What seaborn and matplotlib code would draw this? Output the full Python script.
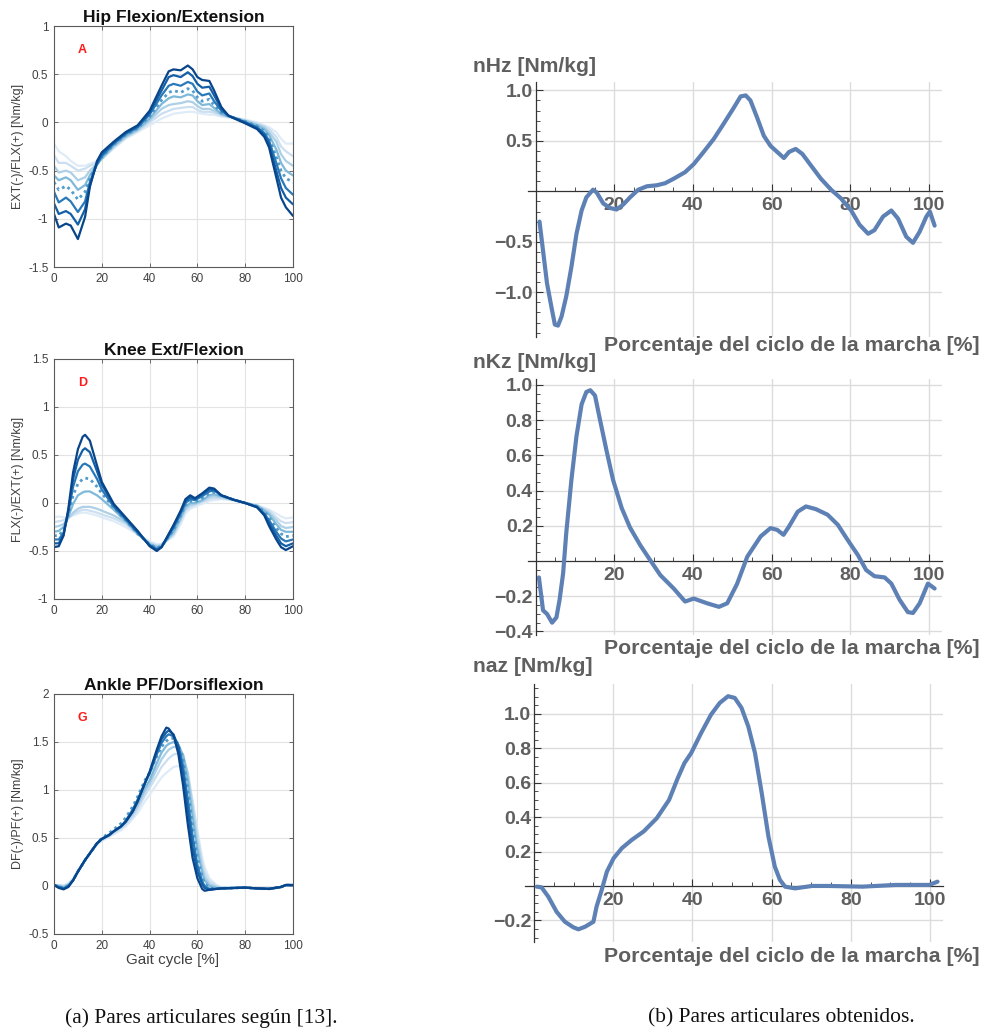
import numpy as np
import matplotlib
matplotlib.use("Agg")
import matplotlib.pyplot as plt
import seaborn as sns
from matplotlib.ticker import MultipleLocator

# ---------------- left column: reference moments, darkest (fastest) curve first ----------------
hip_x = [0, 2, 5, 7, 10, 13, 15, 18, 20, 25, 30, 35, 40, 45, 48, 50, 53, 56, 58, 60,
         62, 65, 67, 70, 73, 75, 80, 85, 88, 90, 93, 95, 97, 100]
hip_y = [
    [-0.95, -1.09, -1.05, -1.07, -1.21, -0.98, -0.67, -0.40, -0.31, -0.20, -0.10, -0.03, 0.12, 0.38, 0.53, 0.55, 0.54, 0.59, 0.55, 0.47,
     0.44, 0.43, 0.33, 0.16, 0.07, 0.045, -0.01, -0.07, -0.15, -0.26, -0.57, -0.78, -0.88, -0.97],
    [-0.84, -0.95, -0.92, -0.95, -1.06, -0.90, -0.65, -0.42, -0.33, -0.21, -0.11, -0.04, 0.10, 0.33, 0.47, 0.49, 0.47, 0.52, 0.48, 0.40,
     0.36, 0.37, 0.28, 0.14, 0.07, 0.05, 0.0, -0.06, -0.13, -0.22, -0.50, -0.68, -0.78, -0.85],
    [-0.72, -0.83, -0.78, -0.82, -0.93, -0.82, -0.62, -0.43, -0.35, -0.22, -0.12, -0.05, 0.08, 0.28, 0.38, 0.40, 0.38, 0.42, 0.40, 0.32,
     0.28, 0.30, 0.22, 0.12, 0.07, 0.05, 0.0, -0.05, -0.11, -0.19, -0.42, -0.58, -0.68, -0.75],
    [-0.62, -0.70, -0.66, -0.70, -0.80, -0.72, -0.58, -0.43, -0.36, -0.23, -0.13, -0.06, 0.06, 0.23, 0.31, 0.33, 0.31, 0.35, 0.33, 0.26,
     0.22, 0.24, 0.18, 0.10, 0.07, 0.05, 0.01, -0.04, -0.09, -0.16, -0.36, -0.50, -0.58, -0.62],
    [-0.55, -0.60, -0.57, -0.60, -0.70, -0.65, -0.55, -0.44, -0.37, -0.24, -0.14, -0.07, 0.04, 0.19, 0.25, 0.27, 0.26, 0.29, 0.28, 0.22,
     0.18, 0.19, 0.15, 0.09, 0.06, 0.05, 0.01, -0.03, -0.07, -0.13, -0.28, -0.42, -0.50, -0.55],
    [-0.45, -0.52, -0.50, -0.52, -0.60, -0.57, -0.50, -0.43, -0.38, -0.25, -0.15, -0.08, 0.02, 0.14, 0.18, 0.19, 0.20, 0.22, 0.21, 0.17,
     0.14, 0.14, 0.12, 0.08, 0.06, 0.05, 0.02, -0.02, -0.05, -0.10, -0.20, -0.33, -0.40, -0.45],
    [-0.34, -0.42, -0.42, -0.45, -0.50, -0.48, -0.45, -0.42, -0.38, -0.26, -0.16, -0.09, 0.0, 0.09, 0.12, 0.14, 0.15, 0.16, 0.16, 0.13,
     0.11, 0.11, 0.10, 0.07, 0.06, 0.05, 0.02, -0.01, -0.04, -0.07, -0.15, -0.25, -0.30, -0.35],
    [-0.22, -0.30, -0.35, -0.40, -0.45, -0.45, -0.43, -0.40, -0.38, -0.27, -0.17, -0.10, -0.03, 0.04, 0.07, 0.09, 0.10, 0.11, 0.11, 0.10,
     0.09, 0.08, 0.08, 0.06, 0.05, 0.05, 0.03, 0.0, -0.03, -0.05, -0.10, -0.17, -0.22, -0.22],
]

knee_x = [0, 2, 4, 6, 8, 10, 12, 13, 15, 18, 20, 25, 30, 35, 40, 43, 45, 50, 53, 55,
          57, 59, 62, 65, 67, 70, 75, 80, 85, 88, 90, 93, 95, 97, 100]
knee_y = [
    [-0.46, -0.45, -0.34, -0.06, 0.32, 0.56, 0.69, 0.71, 0.65, 0.39, 0.22, -0.01, -0.15, -0.29, -0.45, -0.50, -0.46, -0.23, -0.08, 0.04,
     0.08, 0.05, 0.10, 0.16, 0.15, 0.08, 0.035, 0.0, -0.045, -0.13, -0.24, -0.38, -0.46, -0.49, -0.45],
    [-0.42, -0.42, -0.33, -0.08, 0.25, 0.45, 0.55, 0.57, 0.53, 0.33, 0.19, -0.02, -0.16, -0.30, -0.44, -0.49, -0.46, -0.24, -0.09, 0.02,
     0.06, 0.04, 0.09, 0.14, 0.14, 0.08, 0.035, 0.0, -0.045, -0.12, -0.21, -0.34, -0.42, -0.45, -0.42],
    [-0.38, -0.38, -0.31, -0.10, 0.17, 0.33, 0.40, 0.41, 0.38, 0.25, 0.14, -0.04, -0.17, -0.31, -0.44, -0.48, -0.46, -0.26, -0.11, 0.0,
     0.04, 0.03, 0.07, 0.12, 0.13, 0.08, 0.035, 0.0, -0.04, -0.11, -0.18, -0.30, -0.37, -0.40, -0.38],
    [-0.34, -0.34, -0.28, -0.12, 0.08, 0.20, 0.25, 0.26, 0.25, 0.17, 0.10, -0.05, -0.18, -0.32, -0.43, -0.47, -0.45, -0.28, -0.13, -0.02,
     0.02, 0.01, 0.05, 0.10, 0.11, 0.08, 0.035, 0.0, -0.035, -0.09, -0.15, -0.26, -0.32, -0.35, -0.34],
    [-0.30, -0.29, -0.25, -0.14, -0.01, 0.08, 0.11, 0.12, 0.12, 0.08, 0.04, -0.07, -0.19, -0.32, -0.43, -0.46, -0.45, -0.30, -0.15, -0.04,
     0.0, 0.0, 0.03, 0.08, 0.09, 0.07, 0.035, 0.0, -0.03, -0.08, -0.12, -0.22, -0.28, -0.30, -0.30],
    [-0.25, -0.24, -0.22, -0.16, -0.10, -0.06, -0.04, -0.04, -0.04, -0.06, -0.08, -0.13, -0.20, -0.32, -0.42, -0.45, -0.44, -0.32, -0.17, -0.06,
     -0.02, -0.01, 0.02, 0.06, 0.07, 0.06, 0.03, 0.0, -0.03, -0.07, -0.10, -0.18, -0.24, -0.26, -0.25],
    [-0.20, -0.19, -0.18, -0.15, -0.12, -0.09, -0.07, -0.07, -0.08, -0.10, -0.12, -0.16, -0.22, -0.32, -0.41, -0.44, -0.43, -0.33, -0.19, -0.08,
     -0.04, -0.02, 0.01, 0.04, 0.05, 0.05, 0.03, 0.0, -0.025, -0.06, -0.08, -0.15, -0.19, -0.21, -0.20],
    [-0.15, -0.14, -0.15, -0.15, -0.13, -0.11, -0.10, -0.10, -0.11, -0.13, -0.15, -0.19, -0.25, -0.33, -0.40, -0.43, -0.43, -0.35, -0.22, -0.11,
     -0.06, -0.04, -0.01, 0.02, 0.03, 0.04, 0.03, 0.0, -0.02, -0.05, -0.07, -0.11, -0.14, -0.16, -0.15],
]

ankle_x = [0, 2, 4, 6, 8, 10, 13, 15, 18, 20, 23, 25, 28, 30, 33, 35, 38, 40, 43, 45,
           47, 48, 50, 52, 54, 56, 58, 60, 62, 63, 65, 68, 70, 80, 85, 90, 95, 97, 100]
ankle_y = [
    [0.01, -0.02, -0.035, -0.01, 0.06, 0.15, 0.27, 0.34, 0.445, 0.49, 0.53, 0.57, 0.62, 0.67, 0.78, 0.88, 1.07, 1.19, 1.42, 1.56,
     1.65, 1.64, 1.57, 1.38, 1.05, 0.64, 0.29, 0.08, -0.03, -0.05, -0.04, -0.03, -0.025, -0.017, -0.025, -0.03, -0.01, 0.01, 0.01],
    [0.01, -0.015, -0.03, -0.005, 0.06, 0.15, 0.27, 0.34, 0.445, 0.49, 0.53, 0.57, 0.62, 0.67, 0.78, 0.89, 1.07, 1.18, 1.40, 1.53,
     1.60, 1.62, 1.58, 1.45, 1.17, 0.78, 0.40, 0.15, 0.02, -0.02, -0.04, -0.03, -0.025, -0.017, -0.025, -0.03, -0.01, 0.01, 0.01],
    [0.01, -0.01, -0.025, 0.0, 0.06, 0.15, 0.27, 0.34, 0.445, 0.49, 0.53, 0.57, 0.62, 0.68, 0.80, 0.90, 1.07, 1.17, 1.37, 1.49,
     1.56, 1.58, 1.56, 1.47, 1.25, 0.90, 0.52, 0.22, 0.05, 0.0, -0.03, -0.03, -0.025, -0.017, -0.025, -0.03, -0.01, 0.01, 0.01],
    [0.01, -0.005, -0.02, 0.005, 0.06, 0.15, 0.27, 0.34, 0.445, 0.50, 0.55, 0.59, 0.65, 0.71, 0.83, 0.93, 1.10, 1.18, 1.35, 1.45,
     1.51, 1.53, 1.54, 1.48, 1.32, 1.00, 0.62, 0.30, 0.09, 0.03, -0.02, -0.03, -0.025, -0.017, -0.025, -0.03, -0.01, 0.01, 0.01],
    [0.01, 0.0, -0.015, 0.01, 0.06, 0.15, 0.27, 0.34, 0.44, 0.49, 0.53, 0.57, 0.62, 0.67, 0.77, 0.86, 1.02, 1.10, 1.28, 1.39,
     1.46, 1.48, 1.50, 1.47, 1.36, 1.10, 0.72, 0.38, 0.14, 0.06, 0.0, -0.02, -0.025, -0.017, -0.025, -0.03, -0.01, 0.01, 0.01],
    [0.01, 0.005, -0.01, 0.015, 0.06, 0.15, 0.27, 0.34, 0.44, 0.48, 0.52, 0.56, 0.61, 0.66, 0.75, 0.83, 0.98, 1.06, 1.22, 1.32,
     1.39, 1.42, 1.45, 1.44, 1.37, 1.17, 0.82, 0.46, 0.19, 0.10, 0.02, -0.01, -0.02, -0.017, -0.025, -0.03, -0.01, 0.01, 0.01],
    [0.01, 0.01, 0.0, 0.02, 0.07, 0.15, 0.27, 0.34, 0.44, 0.48, 0.52, 0.55, 0.60, 0.64, 0.72, 0.80, 0.94, 1.02, 1.15, 1.24,
     1.30, 1.33, 1.37, 1.38, 1.33, 1.18, 0.88, 0.54, 0.25, 0.15, 0.05, 0.0, -0.015, -0.017, -0.025, -0.03, -0.01, 0.01, 0.01],
    [0.01, 0.01, 0.01, 0.03, 0.08, 0.16, 0.27, 0.34, 0.43, 0.47, 0.51, 0.54, 0.58, 0.62, 0.70, 0.76, 0.88, 0.95, 1.06, 1.13,
     1.18, 1.20, 1.24, 1.25, 1.22, 1.10, 0.88, 0.58, 0.30, 0.20, 0.08, 0.01, -0.01, -0.017, -0.025, -0.03, -0.01, 0.01, 0.01],
]

hip_yticks = [-1.5, -1, -0.5, 0, 0.5, 1]
knee_yticks = [-1, -0.5, 0, 0.5, 1, 1.5]
ankle_yticks = [-0.5, 0, 0.5, 1, 1.5, 2]
gait_xticks = [0, 20, 40, 60, 80, 100]

# ---------------- right column: computed moments ----------------
nhz_x = [1, 2.9, 4, 4.9, 5.7, 6.6, 7.8, 9.1, 10.4, 11.7, 12.9, 14.6, 15.5, 17.2, 18.9, 20.6, 22.3, 24, 26.1, 28.3,
         30.8, 32.9, 35.1, 38, 40.2, 42.7, 45.3, 47.8, 50.4, 52.1, 53.4, 54.6, 56.3, 58, 59.7, 61.4, 63.1, 64.4, 66.1, 67.8,
         69.9, 72.5, 75.1, 77.6, 80.2, 82.3, 84.5, 86.1, 88.3, 90.4, 92.1, 94.2, 95.9, 97.6, 99.3, 100.2, 101.4]
nhz_y = [-0.30, -0.91, -1.14, -1.32, -1.33, -1.24, -1.04, -0.75, -0.42, -0.19, -0.06, 0.016, -0.01, -0.12, -0.165, -0.18, -0.13, -0.06, 0.016, 0.05,
         0.06, 0.08, 0.125, 0.19, 0.27, 0.39, 0.52, 0.67, 0.83, 0.94, 0.95, 0.90, 0.73, 0.55, 0.45, 0.39, 0.33, 0.39, 0.42, 0.37,
         0.26, 0.125, 0.016, -0.07, -0.19, -0.33, -0.42, -0.385, -0.25, -0.19, -0.27, -0.45, -0.51, -0.40, -0.25, -0.20, -0.34]

nkz_x = [0.85, 1.9, 2.9, 4.2, 5.3, 6.1, 7, 7.8, 9.1, 10.4, 11.7, 12.9, 13.9, 15.1, 16.3, 18, 19.7, 21.9, 24, 26.6,
         29.1, 31.7, 35.1, 38, 40.2, 43.6, 46.6, 48.7, 51.2, 53.8, 57.2, 59.7, 61.4, 63, 64.4, 66.6, 68.7, 71.2, 74.2, 76.8,
         79.3, 81.9, 84, 86.1, 88.7, 90.4, 92.5, 94.6, 95.9, 97.6, 99.7, 101.4]
nkz_y = [-0.093, -0.28, -0.30, -0.35, -0.32, -0.22, -0.07, 0.16, 0.46, 0.71, 0.89, 0.96, 0.97, 0.94, 0.81, 0.63, 0.46, 0.30, 0.19, 0.09,
         0.006, -0.08, -0.156, -0.23, -0.213, -0.24, -0.26, -0.24, -0.13, 0.025, 0.14, 0.187, 0.177, 0.149, 0.196, 0.28, 0.31, 0.295, 0.263, 0.206,
         0.12, 0.034, -0.051, -0.086, -0.093, -0.128, -0.22, -0.29, -0.295, -0.24, -0.128, -0.156]

naz_x = [0.7, 1.9, 3.6, 5.7, 7.8, 9.9, 11.2, 12.9, 15, 15.8, 17.1, 18.4, 20.1, 22.2, 24.7, 27.7, 31, 34.1, 36.3, 38,
         39.7, 42.2, 44.7, 46.9, 49, 50.7, 52.4, 54.1, 55.8, 57.5, 59.2, 60.8, 62.1, 63.4, 65.9, 70.2, 74.4, 82.9, 91.4, 99.8, 101.9]
naz_y = [-0.004, -0.008, -0.062, -0.15, -0.208, -0.24, -0.252, -0.237, -0.208, -0.12, -0.023, 0.083, 0.161, 0.22, 0.268, 0.317, 0.394, 0.5, 0.627, 0.715,
         0.773, 0.889, 0.996, 1.064, 1.103, 1.093, 1.035, 0.928, 0.773, 0.54, 0.287, 0.113, 0.035, -0.004, -0.014, 0.0, 0.0, -0.004, 0.006, 0.006, 0.025]

nhz_yticks = [-1.0, -0.5, 0.5, 1.0]
nkz_yticks = [-0.4, -0.2, 0.2, 0.4, 0.6, 0.8, 1.0]
naz_yticks = [-0.2, 0.2, 0.4, 0.6, 0.8, 1.0]
pct_xticks = [20, 40, 60, 80, 100]

# ---------------- figure ----------------
W, H = 985, 1031
sns.set_theme(style="white")
plt.rcParams["font.family"] = ["Liberation Sans", "DejaVu Sans"]

fig = plt.figure(figsize=(W / 100, H / 100), dpi=100)


def add_ax(x0, y0, x1, y1):
    # pixel box (top-left origin) -> figure fraction
    return fig.add_axes([x0 / W, 1 - y1 / H, (x1 - x0) / W, (y1 - y0) / H])


def ftext(x, y, s, **kw):
    fig.text(x / W, 1 - y / H, s, **kw)


blues = sns.color_palette("Blues", as_cmap=True)
levels = [0.92, 0.82, 0.72, 0.58, 0.45, 0.33, 0.22, 0.12]


def left_panel(box, x, curves, yticks, title, letter, ylabel):
    ax = add_ax(*box)
    for k in range(len(curves) - 1, -1, -1):
        dotted = k == 3
        sns.lineplot(x=x, y=curves[k], ax=ax, color=blues(levels[k]),
                     linewidth=2.0 if dotted else 1.6,
                     linestyle=(0, (1, 1.3)) if dotted else "-")
    ax.set_xlim(0, 100)
    ax.set_ylim(yticks[0], yticks[-1])
    ax.set_xticks(gait_xticks)
    ax.set_xticklabels([str(t) for t in gait_xticks])
    ax.set_yticks(yticks)
    ax.set_yticklabels([f"{t:g}" for t in yticks])
    ax.tick_params(direction="in", length=3, width=0.6, color="#555555",
                   labelsize=8.5, labelcolor="#404040", pad=4,
                   bottom=True, left=True, top=True, right=True)
    ax.grid(True, color="#e3e3e3", linewidth=0.8)
    for s in ax.spines.values():
        s.set_color("#5a5a5a")
        s.set_linewidth(0.8)
    ax.set_title(title, fontsize=12.5, fontweight="bold", color="#111111", pad=3)
    ax.text(0.12, 0.9, letter, transform=ax.transAxes, color="#ff1a1a",
            fontsize=9, fontweight="bold", ha="center", va="center")
    ftext(18, (box[1] + box[3]) / 2, ylabel, rotation=90, fontsize=9,
          color="#404040", ha="center", va="center")
    return ax


left_panel((54, 26, 293, 267), hip_x, hip_y, hip_yticks,
           "Hip Flexion/Extension", "A", "EXT(-)/FLX(+) [Nm/kg]")
left_panel((54, 359, 293, 599), knee_x, knee_y, knee_yticks,
           "Knee Ext/Flexion", "D", "FLX(-)/EXT(+) [Nm/kg]")
left_panel((54, 694, 293, 934), ankle_x, ankle_y, ankle_yticks,
           "Ankle PF/Dorsiflexion", "G", "DF(-)/PF(+) [Nm/kg]")
ftext(173, 960, "Gait cycle [%]", fontsize=11, color="#404040", ha="center", va="center")

grey = "#5f5f5f"


def right_panel(box, x, y, xlim, ylim, yticks, yminor, name, name_y, xlabel_y):
    ax = add_ax(*box)
    sns.lineplot(x=x, y=y, ax=ax, color="#5e81b5", linewidth=3.0, zorder=3)
    ax.set_xlim(*xlim)
    ax.set_ylim(*ylim)
    for s in ["top", "right"]:
        ax.spines[s].set_visible(False)
    for s in ["left", "bottom"]:
        ax.spines[s].set_position(("data", 0))
        ax.spines[s].set_color("#333333")
        ax.spines[s].set_linewidth(0.9)
    ax.set_xticks(pct_xticks)
    ax.set_xticklabels([str(t) for t in pct_xticks])
    ax.xaxis.set_minor_locator(MultipleLocator(5))
    ax.set_yticks(yticks)
    ax.set_yticklabels([f"{t:.1f}".replace("-", "\u2212") for t in yticks])
    ax.yaxis.set_minor_locator(MultipleLocator(yminor))
    ax.tick_params(which="both", direction="in", color="#333333",
                   labelcolor=grey, labelsize=14, bottom=True, left=True)
    ax.tick_params(which="major", length=5, width=0.8)
    ax.tick_params(which="minor", length=3, width=0.6)
    ax.tick_params(axis="x", pad=4)
    ax.tick_params(axis="y", pad=2)
    for lab in ax.get_xticklabels() + ax.get_yticklabels():
        lab.set_fontweight("bold")
    ax.grid(True, which="major", color="#dcdcdc", linewidth=1)
    ftext(473, name_y, name, fontsize=15.2, fontweight="bold", color=grey,
          ha="left", va="center")
    ftext(980, xlabel_y, "Porcentaje del ciclo de la marcha [%]", fontsize=15.3,
          fontweight="bold", color=grey, ha="right", va="center")
    return ax


right_panel((527.7, 82.3, 941.7, 336.7), nhz_x, nhz_y, (-2, 103.2), (-1.44, 1.08),
            nhz_yticks, 0.1, "nHz [Nm/kg]", 66, 345)
right_panel((527.7, 379.3, 941.7, 635), nkz_x, nkz_y, (-2, 103.2), (-0.42, 1.032),
            nkz_yticks, 0.05, "nKz [Nm/kg]", 363, 648)
right_panel((524.9, 684, 942.7, 941.7), naz_x, naz_y, (-2.3, 103.2), (-0.324, 1.174),
            naz_yticks, 0.05, "naz [Nm/kg]", 667, 957)

ftext(201, 1018, "(a) Pares articulares según [13].", family="Liberation Serif",
      fontsize=15.5, color="#111111", ha="center", va="center")
ftext(781, 1018, "(b) Pares articulares obtenidos.", family="Liberation Serif",
      fontsize=15.5, color="#111111", ha="center", va="center")

fig.savefig("out.png", dpi=100)
